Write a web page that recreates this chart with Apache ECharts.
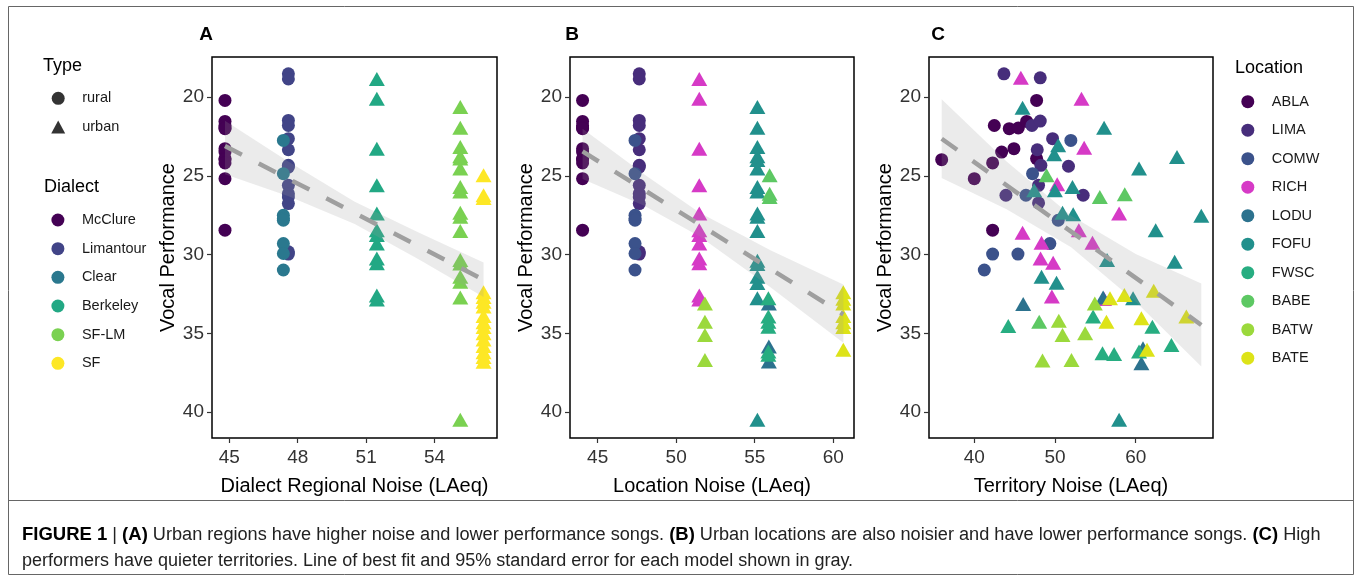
<!DOCTYPE html>
<html><head><meta charset="utf-8">
<script src="https://cdn.jsdelivr.net/npm/echarts@6/dist/echarts.min.js"></script>
<style>html,body{margin:0;padding:0;background:#fff}#c{width:1357px;height:581px}</style>
</head><body><div id="c"></div>
<script>
// ---------- Panel A : dialects ----------
const dialects = ['McClure', 'Limantour', 'Clear', 'Berkeley', 'SF-LM', 'SF'];
const dialectColors = ['#440154', '#414487', '#2A788E', '#22A884', '#7AD151', '#FDE725'];
const dialectType = ['rural', 'rural', 'rural', 'urban', 'urban', 'urban'];
const dialectNoise = [44.81, 47.59, 47.37, 51.47, 55.13, 56.15];
const perfMcClure = [20.21, 21.54, 21.8, 21.96, 22.0, 23.27, 23.49, 23.9, 23.97, 24.18, 25.18, 28.45];
const perfLimantour = [18.52, 18.84, 21.48, 21.8, 22.64, 23.34, 24.33, 24.44, 25.6, 26.13, 26.34, 26.76, 29.82, 29.97];
const perfClear = [22.75, 24.86, 27.5, 27.71, 27.82, 29.3, 29.93, 30.98];
const perfBerkeley = [18.84, 20.1, 23.27, 25.6, 27.39, 28.45, 28.75, 29.3, 30.25, 30.55, 32.6, 32.85];
const perfSFLM = [20.63, 21.94, 23.17, 23.76, 23.9, 24.54, 25.7, 26.0, 27.35, 27.6, 28.5, 30.35, 30.56, 31.4, 31.72, 32.72, 40.49];
const perfSF = [24.96, 26.23, 26.4, 32.4, 32.7, 33.0, 33.3, 33.9, 34.3, 34.6, 35.0, 35.4, 35.8, 36.2, 36.5, 36.8];
const dialectPerf = [perfMcClure, perfLimantour, perfClear, perfBerkeley, perfSFLM, perfSF];
const fitAx = [44.81, 56.15];
const fitAy = [23.1, 31.6];
const bandAx = [44.81, 47.6, 50.5, 53.3, 56.15];
const bandAtop = [21.5, 24.1, 26.65, 28.6, 30.5];
const bandAbot = [24.9, 26.3, 28.05, 30.3, 32.7];

// ---------- Panel B : location noise ----------
const locations = ['ABLA', 'LIMA', 'COMW', 'RICH', 'LODU', 'FOFU', 'FWSC', 'BABE', 'BATW', 'BATE'];
const locationColors = ['#440154', '#472D7B', '#3B528B', '#D63AC6', '#2C728E', '#21908C', '#27AD81', '#5DC863', '#9BD93C', '#DDE318'];
const locationType = ['rural', 'rural', 'rural', 'urban', 'urban', 'urban', 'urban', 'urban', 'urban', 'urban'];
const locationNoise = [44.04, 47.65, 47.38, 51.47, 55.9, 55.17, 55.87, 55.95, 51.83, 60.64];
const perfABLA = [20.21, 21.54, 21.8, 21.96, 22.0, 23.27, 23.49, 23.9, 23.97, 24.18, 25.18, 28.45];
const perfLIMA = [18.52, 18.84, 21.48, 21.8, 22.64, 23.34, 24.33, 24.44, 25.6, 26.13, 26.34, 26.76, 29.82, 29.97];
const perfCOMW = [22.75, 24.86, 27.5, 27.71, 27.82, 29.3, 29.93, 30.98];
const perfRICH = [18.84, 20.1, 23.27, 25.6, 27.39, 28.45, 28.75, 29.3, 30.25, 30.55, 32.6, 32.85];
const perfLODU = [33.1, 35.84, 36.79];
const perfFOFU = [20.63, 21.94, 23.17, 23.76, 24.0, 24.54, 25.7, 26.0, 27.39, 27.6, 28.5, 30.39, 30.6, 31.4, 31.8, 32.78, 40.49];
const perfFWSC = [32.78, 33.94, 34.26, 34.58, 36.16, 36.37];
const perfBABE = [24.96, 26.13, 26.34];
const perfBATW = [33.1, 34.26, 35.1, 36.69];
const perfBATE = [32.4, 32.8, 33.1, 33.9, 34.3, 34.6, 36.05];
const locationPerf = [perfABLA, perfLIMA, perfCOMW, perfRICH, perfLODU, perfFOFU, perfFWSC, perfBABE, perfBATW, perfBATE];
const fitBx = [44.04, 60.64];
const fitBy = [23.45, 33.8];
const bandBx = [44.04, 48, 51.5, 56, 60.64];
const bandBtop = [22.0, 24.93, 27.35, 29.73, 31.9];
const bandBbot = [25.2, 26.91, 28.85, 32.07, 35.6];

// ---------- Panel C : territory noise [noise, performance] ----------
const terrABLA = [[35.96, 23.97], [40.0, 25.18], [42.27, 28.45], [42.27, 24.18], [42.48, 21.8], [43.39, 23.49], [44.33, 22.0], [44.91, 23.27], [45.45, 21.96], [46.48, 21.54], [47.72, 20.21], [47.72, 23.9]];
const terrLIMA = [[43.67, 18.52], [48.17, 18.77], [47.14, 21.8], [48.17, 21.52], [47.8, 23.34], [47.96, 25.6], [47.96, 26.72], [48.25, 24.33], [49.7, 22.64], [51.67, 24.39], [53.49, 26.23], [43.92, 26.23]];
const terrCOMW = [[51.96, 22.75], [47.22, 24.86], [46.4, 26.23], [50.4, 27.82], [49.36, 29.3], [45.41, 29.97], [42.27, 29.97], [41.24, 30.98]];
const terrRICH = [[45.77, 18.77], [53.28, 20.1], [53.61, 23.21], [50.27, 25.53], [45.98, 28.62], [48.33, 29.25], [48.21, 30.25], [49.77, 30.52], [49.61, 32.67], [52.95, 28.45], [54.64, 29.25], [56.08, 32.82], [57.94, 27.39]];
const terrLODU = [[46.06, 33.14], [60.9, 35.95], [60.7, 36.9], [55.96, 32.72]];
const terrFOFU = [[45.98, 20.68], [56.08, 21.94], [50.39, 23.06], [49.9, 23.63], [47.42, 25.91], [49.98, 25.91], [52.16, 25.7], [50.93, 27.35], [52.25, 27.44], [48.33, 31.4], [50.19, 31.79], [56.45, 30.35], [60.41, 24.54], [65.11, 23.8], [62.47, 28.45], [64.82, 30.46], [68.12, 27.54], [57.94, 40.49], [59.67, 32.78]];
const terrFWSC = [[44.21, 34.53], [54.72, 33.94], [55.88, 36.27], [57.32, 36.31], [62.06, 34.58], [64.42, 35.74], [60.41, 36.16]];
const terrBABE = [[48.95, 24.96], [55.55, 26.34], [58.64, 26.17], [48.04, 34.26]];
const terrBATW = [[48.45, 36.73], [52.04, 36.69], [50.47, 34.2], [50.93, 35.1], [53.73, 35.0], [54.93, 33.1]];
const terrBATE = [[58.59, 32.57], [56.81, 32.78], [56.37, 34.26], [60.7, 34.05], [62.23, 32.3], [66.27, 33.94], [61.4, 36.05]];
const territoryData = [terrABLA, terrLIMA, terrCOMW, terrRICH, terrLODU, terrFOFU, terrFWSC, terrBABE, terrBATW, terrBATE];
const fitCx = [35.96, 68.12];
const fitCy = [22.64, 34.47];
const bandCx = [35.96, 44, 52, 60, 68.12];
const bandCtop = [20.14, 24.08, 27.54, 29.96, 31.83];
const bandCbot = [25.14, 27.12, 29.54, 33.0, 37.11];

// ---------- axes ----------
const yTicks = [20, 25, 30, 35, 40];
const xTicksA = [45, 48, 51, 54];
const xTicksB = [45, 50, 55, 60];
const xTicksC = [40, 50, 60];

const FONT = 'Liberation Sans, Arial, Helvetica, sans-serif';
const grids = [
  {left: 212, top: 57, width: 285, height: 381},
  {left: 570, top: 57, width: 284, height: 381},
  {left: 929, top: 57, width: 284, height: 381}
].map(g => Object.assign(g, {show: true, borderColor: '#000', borderWidth: 1.5, backgroundColor: 'transparent'}));

function xAxis(i, min, max, ticks, name) {
  return {
    type: 'value', gridIndex: i, min: min, max: max, name: name,
    nameLocation: 'middle', nameGap: 38,
    nameTextStyle: {fontSize: 20, color: '#000', fontFamily: FONT},
    axisLine: {show: false},
    axisTick: {show: true, length: 5, customValues: ticks, lineStyle: {color: '#333', width: 1.2}},
    axisLabel: {customValues: ticks, fontSize: 19, color: '#333', margin: 10, fontFamily: FONT},
    splitLine: {show: false}
  };
}
function yAxis(i) {
  return {
    type: 'value', gridIndex: i, min: 17.45, max: 41.65, inverse: true,
    name: 'Vocal Performance', nameLocation: 'middle', nameGap: 34,
    nameTextStyle: {fontSize: 20, color: '#000', fontFamily: FONT},
    axisLine: {show: false},
    axisTick: {show: true, length: 5, customValues: yTicks, lineStyle: {color: '#333', width: 1.2}},
    axisLabel: {customValues: yTicks, fontSize: 19, color: '#333', margin: 8, fontFamily: FONT},
    splitLine: {show: false}
  };
}

function symFor(type) { return type === 'urban' ? 'triangle' : 'circle'; }
function sizeFor(type) { return type === 'urban' ? [16, 14] : 13; }

const series = [];
// shape-only series for the "Type" legend
series.push({name: 'rural', type: 'scatter', xAxisIndex: 0, yAxisIndex: 0, symbol: 'circle', symbolSize: 13, itemStyle: {color: '#000'}, data: []});
series.push({name: 'urban', type: 'scatter', xAxisIndex: 0, yAxisIndex: 0, symbol: 'triangle', symbolSize: [15, 13], itemStyle: {color: '#000'}, data: []});

dialects.forEach((d, i) => {
  series.push({
    name: d, type: 'scatter', xAxisIndex: 0, yAxisIndex: 0,
    symbol: symFor(dialectType[i]), symbolSize: sizeFor(dialectType[i]),
    itemStyle: {color: dialectColors[i], opacity: 1}, z: 2,
    data: dialectPerf[i].map(v => [dialectNoise[i], v])
  });
});
locations.forEach((l, i) => {
  series.push({
    name: l, type: 'scatter', xAxisIndex: 1, yAxisIndex: 1,
    symbol: symFor(locationType[i]), symbolSize: sizeFor(locationType[i]),
    itemStyle: {color: locationColors[i], opacity: 1}, z: 2,
    data: locationPerf[i].map(v => [locationNoise[i], v])
  });
});
locations.forEach((l, i) => {
  series.push({
    name: l, type: 'scatter', xAxisIndex: 2, yAxisIndex: 2,
    symbol: symFor(locationType[i]), symbolSize: sizeFor(locationType[i]),
    itemStyle: {color: locationColors[i], opacity: 1}, z: 2,
    data: territoryData[i]
  });
});

function band(idx, bx, btop, bbot) {
  return {
    type: 'custom', xAxisIndex: idx, yAxisIndex: idx, silent: true, z: 3,
    data: [[bx[0], btop[0]]],
    renderItem: function (params, api) {
      const pts = [];
      for (let k = 0; k < bx.length; k++) pts.push(api.coord([bx[k], btop[k]]));
      for (let k = bx.length - 1; k >= 0; k--) pts.push(api.coord([bx[k], bbot[k]]));
      return {type: 'polygon', shape: {points: pts}, style: {fill: 'rgba(153,153,153,0.2)'}};
    }
  };
}
function fit(idx, fx, fy) {
  return {
    type: 'line', xAxisIndex: idx, yAxisIndex: idx, silent: true, z: 4,
    showSymbol: false, symbol: 'none',
    lineStyle: {color: '#9f9f9f', width: 4.5, type: [19, 19]},
    data: fx.map((x, k) => [x, fy[k]])
  };
}
series.push(band(0, bandAx, bandAtop, bandAbot), fit(0, fitAx, fitAy));
series.push(band(1, bandBx, bandBtop, bandBbot), fit(1, fitBx, fitBy));
series.push(band(2, bandCx, bandCtop, bandCbot), fit(2, fitCx, fitCy));

const legendText = {fontSize: 14.5, color: '#1a1a1a', fontFamily: FONT};
const legendCommon = {orient: 'vertical', padding: 0, itemWidth: 38, itemHeight: 13, selectedMode: false, textStyle: legendText};

const caption1 = '{b|FIGURE 1} | {b|(A)} Urban regions have higher noise and lower performance songs. {b|(B)} Urban locations are also noisier and have lower performance songs. {b|(C)} High';
const caption2 = 'performers have quieter territories. Line of best fit and 95% standard error for each model shown in gray.';

const option = {
  animation: false,
  backgroundColor: '#fff',
  textStyle: {fontFamily: FONT},
  grid: grids,
  xAxis: [
    xAxis(0, 44.24, 56.74, xTicksA, 'Dialect Regional Noise (LAeq)'),
    xAxis(1, 43.24, 61.32, xTicksB, 'Location Noise (LAeq)'),
    xAxis(2, 34.39, 69.57, xTicksC, 'Territory Noise (LAeq)')
  ],
  yAxis: [yAxis(0), yAxis(1), yAxis(2)],
  legend: [
    Object.assign({}, legendCommon, {left: 51.2, top: 90.8, itemGap: 13.7, itemWidth: 14, itemHeight: 13,
      textStyle: Object.assign({}, legendText, {padding: [0, 0, 0, 12]}),
      data: [{name: 'rural', icon: 'circle'}, {name: 'urban', icon: 'triangle'}]}),
    Object.assign({}, legendCommon, {left: 51.4, top: 212.5, itemGap: 13.66, data: dialects.map(n => ({name: n, icon: 'circle'}))}),
    Object.assign({}, legendCommon, {left: 1241.3, top: 94.2, itemGap: 13.5, data: locations.map(n => ({name: n, icon: 'circle'}))})
  ],
  graphic: [
    {type: 'rect', silent: true, z: -1, shape: {x: 8.5, y: 6.5, width: 1345, height: 568}, style: {fill: 'none', stroke: '#666', lineWidth: 1}},
    {type: 'line', silent: true, shape: {x1: 8.5, y1: 500.5, x2: 1353.5, y2: 500.5}, style: {stroke: '#666', lineWidth: 1}},
    {type: 'text', x: 206, y: 35, style: {text: 'A', font: 'bold 19px ' + FONT, fill: '#000', textAlign: 'center', textVerticalAlign: 'middle'}},
    {type: 'text', x: 572, y: 35, style: {text: 'B', font: 'bold 19px ' + FONT, fill: '#000', textAlign: 'center', textVerticalAlign: 'middle'}},
    {type: 'text', x: 938, y: 35, style: {text: 'C', font: 'bold 19px ' + FONT, fill: '#000', textAlign: 'center', textVerticalAlign: 'middle'}},
    {type: 'text', x: 43, y: 66.5, style: {text: 'Type', font: '18px ' + FONT, fill: '#000', textAlign: 'left', textVerticalAlign: 'middle'}},
    {type: 'text', x: 44, y: 187, style: {text: 'Dialect', font: '18px ' + FONT, fill: '#000', textAlign: 'left', textVerticalAlign: 'middle'}},
    {type: 'text', x: 1235, y: 68.5, style: {text: 'Location', font: '18px ' + FONT, fill: '#000', textAlign: 'left', textVerticalAlign: 'middle'}},
    {type: 'text', x: 22, y: 535, style: {text: caption1, font: '18.15px ' + FONT, fill: '#222', textAlign: 'left', textVerticalAlign: 'middle',
      rich: {b: {fontWeight: 'bold', fontSize: 18.5, fontFamily: FONT, fill: '#000'}}}},
    {type: 'text', x: 22, y: 561, style: {text: caption2, font: '18px ' + FONT, fill: '#222', textAlign: 'left', textVerticalAlign: 'middle'}}
  ],
  series: series
};
const chart = echarts.init(document.getElementById('c'), null, {renderer: 'canvas'});
chart.setOption(option);
</script>
</body></html>
